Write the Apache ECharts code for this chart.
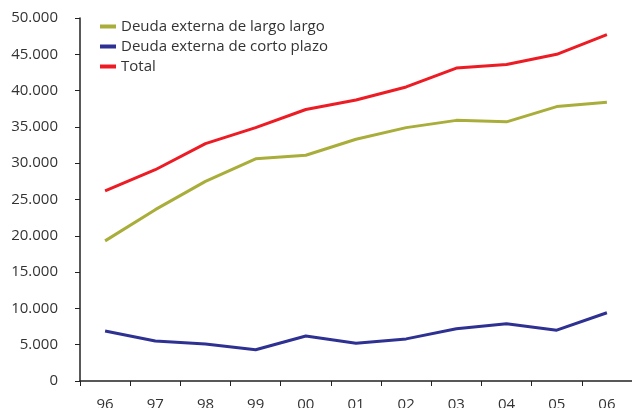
<!DOCTYPE html>
<html><head><meta charset="utf-8">
<script src="https://cdn.jsdelivr.net/npm/echarts@6/dist/echarts.min.js"></script>
<style>html,body{margin:0;padding:0;background:#fff}#c{width:632px;height:408px}</style>
</head><body><div id="c"></div>
<script>
const categories = ['96','97','98','99','00','01','02','03','04','05','06'];
const largo = [19300, 23600, 27500, 30600, 31100, 33300, 34900, 35900, 35700, 37800, 38400];
const corto = [6900, 5500, 5100, 4300, 6200, 5200, 5800, 7200, 7900, 7000, 9400];
const total = [26200, 29100, 32700, 34900, 37400, 38700, 40500, 43100, 43600, 45000, 47700];
const names = ['Deuda externa de largo largo', 'Deuda externa de corto plazo', 'Total'];
const colors = ['#a9ae3a', '#2e3192', '#ed1c24'];

const chart = echarts.init(document.getElementById('c'));
const font = '"Open Sans", sans-serif';
const mk = (name, data, color) => ({
  name, type: 'line', data, symbol: 'none', lineStyle: {width: 3, color}, itemStyle: {color}
});
chart.setOption({
  animation: false,
  textStyle: {fontFamily: font},
  grid: {left: 80, right: 0, top: 18, bottom: 27, containLabel: false, outerBoundsMode: 'none'},
  legend: {
    orient: 'vertical', left: 95, top: 14, itemGap: 5, itemWidth: 16, itemHeight: 4, icon: 'rect',
    textStyle: {fontSize: 15, color: '#333', fontFamily: font},
    data: names
  },
  xAxis: {
    type: 'category', data: categories, boundaryGap: true,
    axisLine: {lineStyle: {color: '#222', width: 1.5}},
    axisTick: {show: true, length: 5, lineStyle: {color: '#222'}},
    axisLabel: {fontSize: 15, color: '#333', margin: 16, fontFamily: font}
  },
  yAxis: {
    type: 'value', min: 0, max: 50000, interval: 5000,
    splitLine: {show: false},
    axisLine: {show: true, lineStyle: {color: '#222', width: 1.5}},
    axisTick: {show: true, length: 5, lineStyle: {color: '#222'}},
    axisLabel: {fontSize: 15, color: '#333', margin: 22, fontFamily: font,
      formatter: v => v === 0 ? '0' : (v / 1000).toFixed(3)}
  },
  series: [mk(names[0], largo, colors[0]), mk(names[1], corto, colors[1]), mk(names[2], total, colors[2])]
});
</script></body></html>
